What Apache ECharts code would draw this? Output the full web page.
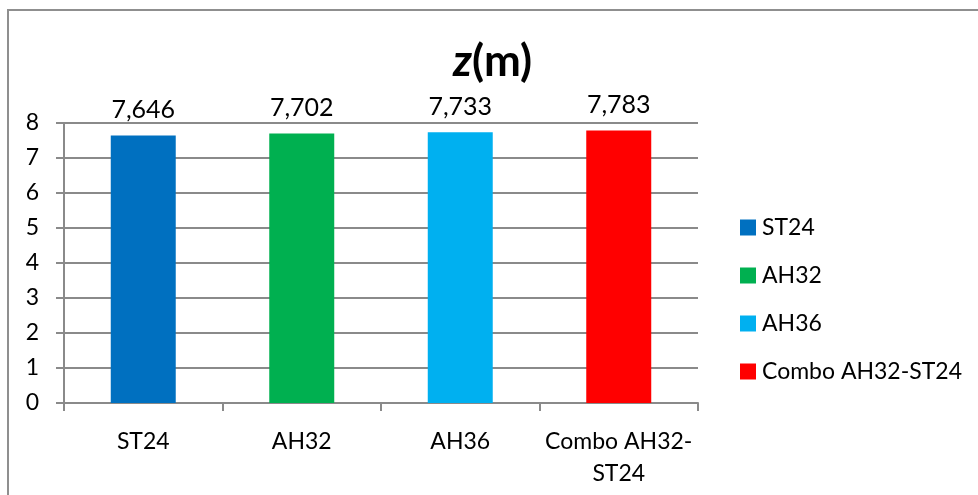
<!DOCTYPE html>
<html><head><meta charset="utf-8">
<script src="https://cdn.jsdelivr.net/npm/echarts@6/dist/echarts.min.js"></script>
<style>html,body{margin:0;padding:0;background:#fff}#c{width:978px;height:495px}</style>
</head><body><div id="c"></div>
<script>
const categories = ['ST24', 'AH32', 'AH36', 'Combo AH32-ST24'];
const values = [7.646, 7.702, 7.733, 7.783];
const colors = ['#0070C0', '#00B050', '#00B0F0', '#FF0000'];
const yTicks = [0, 1, 2, 3, 4, 5, 6, 7, 8];

const FONT = 'Lato';
const chart = echarts.init(document.getElementById('c'));
const series = categories.map((name, i) => ({
  name: name,
  type: 'bar',
  stack: 'all',
  barWidth: '41%',
  itemStyle: { color: colors[i] },
  data: categories.map((c, j) => j === i ? values[i] : '-'),
  label: {
    show: true, position: 'top', distance: 13,
    fontFamily: FONT, fontSize: 25, color: '#000',
    formatter: p => p.value.toFixed(3).replace('.', ',')
  }
}));
chart.setOption({
  animation: false,
  title: {
    text: '{z|z}{m|(m)}',
    left: 453, top: 40, padding: 0,
    textStyle: {
      rich: {
        z: { fontFamily: FONT, fontSize: 44, fontWeight: 'bold', fontStyle: 'italic', color: '#000' },
        m: { fontFamily: FONT, fontSize: 44, fontWeight: 'bold', color: '#000' }
      }
    }
  },
  graphic: [{
    type: 'rect', shape: { x: 8, y: 10, width: 1000, height: 600 },
    style: { fill: 'none', stroke: '#8f8f8f', lineWidth: 2 }, silent: true
  }],
  legend: {
    orient: 'vertical', left: 740, top: 216, itemGap: 25, padding: 0,
    itemWidth: 16, itemHeight: 16,
    icon: 'rect',
    textStyle: { fontFamily: FONT, fontSize: 23, color: '#000', padding: [0, 0, 0, 1] },
    data: categories
  },
  grid: { left: 64, right: 280, top: 123, bottom: 92 },
  xAxis: {
    type: 'category', data: categories,
    axisLine: { lineStyle: { color: '#8a8a8a', width: 2 } },
    axisTick: { show: true, length: 8, lineStyle: { color: '#8a8a8a', width: 2 } },
    axisLabel: {
      interval: 0,
      fontFamily: FONT, fontSize: 23, color: '#000', margin: 23, lineHeight: 32,
      formatter: v => v.replace('AH32-', 'AH32-\n')
    }
  },
  yAxis: {
    type: 'value', min: 0, max: 8, interval: 1,
    axisLine: { show: true, lineStyle: { color: '#8a8a8a', width: 2 } },
    axisTick: { show: true, length: 8, lineStyle: { color: '#8a8a8a', width: 2 } },
    splitLine: { lineStyle: { color: '#8a8a8a', width: 2 } },
    axisLabel: {
      fontFamily: FONT, fontSize: 23, color: '#000', margin: 25,
      formatter: v => yTicks.includes(v) ? String(v) : ''
    }
  },
  series: series
});
</script></body></html>
